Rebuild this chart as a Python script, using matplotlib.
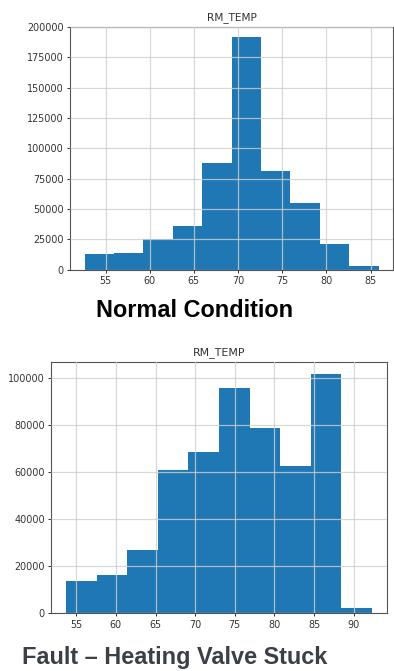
import numpy as np
import matplotlib
matplotlib.use("Agg")
import matplotlib.pyplot as plt

# Normal condition histogram (RM_TEMP)
normal_range = (52.64, 85.90)
normal_counts = [12700, 13200, 24800, 35800, 87600, 191500, 81500, 54500, 20900, 3000]
normal_xticks = [55, 60, 65, 70, 75, 80, 85]
normal_yticks = [0, 25000, 50000, 75000, 100000, 125000, 150000, 175000, 200000]

# Fault condition histogram (RM_TEMP)
fault_range = (53.74, 92.27)
fault_counts = [13600, 16100, 26900, 60800, 68500, 95800, 78800, 62500, 101700, 2300]
fault_xticks = [55, 60, 65, 70, 75, 80, 85, 90]
fault_yticks = [0, 20000, 40000, 60000, 80000, 100000]

title = "RM_TEMP"
label_top = "Normal Condition"
label_bottom = "Fault \u2013 Heating Valve Stuck"

W, H = 394, 671
fig = plt.figure(figsize=(W / 100, H / 100), dpi=100)
fig.patch.set_facecolor("white")

bar_color = "#1f77b4"


def draw(ax, rng, counts, xticks, yticks, title_size):
    edges = np.linspace(rng[0], rng[1], len(counts) + 1)
    centers = (edges[:-1] + edges[1:]) / 2
    ax.hist(centers, bins=edges, weights=counts, color=bar_color,
            linewidth=0, zorder=2)
    ax.set_xticks(xticks)
    ax.set_yticks(yticks)
    ax.margins(x=0.05)
    ax.grid(True, color="#cfcfcf", linewidth=0.9, alpha=0.8, zorder=3)
    ax.set_axisbelow(False)
    for s in ax.spines.values():
        s.set_color("#555555")
        s.set_linewidth(0.8)
    ax.tick_params(labelsize=6.9, colors="#333333", length=2.5, width=0.7, pad=2)
    ax.set_title(title, fontsize=title_size, color="#333333", pad=5)


ax1 = fig.add_axes([70 / W, 1 - 269.5 / H, 323.3 / W, 242.5 / H])
draw(ax1, normal_range, normal_counts, normal_xticks, normal_yticks, 7.6)
ax1.set_ylim(0, 200000)

ax2 = fig.add_axes([51 / W, 1 - 613.3 / H, 336 / W, 251 / H])
draw(ax2, fault_range, fault_counts, fault_xticks, fault_yticks, 7.9)

fig.text(194.5 / W, 1 - 317 / H, label_top, ha="center", va="baseline",
         fontsize=16.9, fontweight="bold", family="Liberation Sans", color="#000000")
fig.text(22 / W, 1 - 664 / H, label_bottom, ha="left", va="baseline",
         fontsize=16.9, fontweight="bold", family="Liberation Sans", color="#3b4046")

fig.savefig("out.png", dpi=100, facecolor="white")
